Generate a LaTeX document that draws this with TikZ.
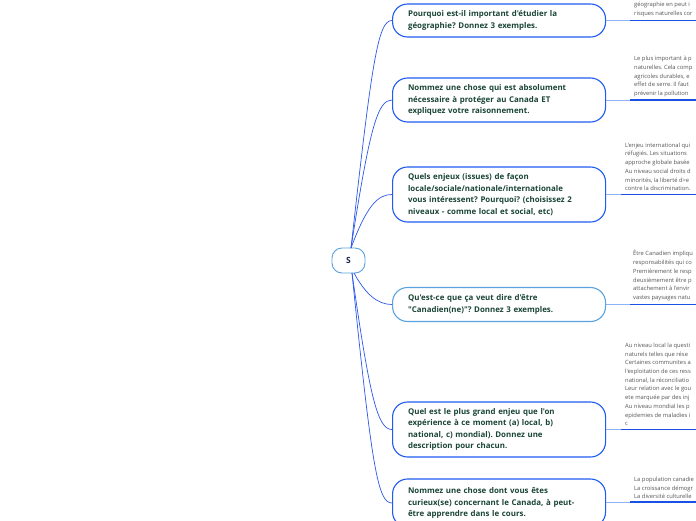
\documentclass[tikz,border=0pt]{standalone}
\usepackage{fontspec}
\setmainfont{Open Sans}[Ligatures=TeXOff]
\frenchspacing
\definecolor{nodeblue}{HTML}{1F5BF2}
\definecolor{lightblue}{HTML}{5AA2E0}
\definecolor{thinblue}{HTML}{8DB3F5}
\definecolor{ulblue}{HTML}{1A50E6}
\definecolor{curveblue}{HTML}{2B57EA}
\definecolor{qtext}{HTML}{1A4535}
\definecolor{stext}{HTML}{1B2A4A}
\definecolor{notetext}{HTML}{555555}
\tikzset{
  question/.style={draw=nodeblue, line width=1.1pt, fill=white, rounded corners=15pt,
    minimum width=211pt, text width=182pt, inner xsep=15.5pt, align=left, anchor=west,
    text=qtext, font=\fontsize{7.9}{11.5}\selectfont\bfseries},
  central/.style={draw=lightblue, line width=0.9pt, fill=white, rounded corners=10pt,
    minimum width=33pt, minimum height=25pt, text=stext, font=\fontsize{8.5}{10}\selectfont\bfseries},
  note/.style={anchor=south west, align=left, inner sep=0pt, text=notetext,
    font=\fontsize{5.8}{8.7}\selectfont},
  branch/.style={draw=curveblue, line width=0.7pt},
  thin/.style={draw=thinblue, line width=0.8pt},
  uline/.style={draw=ulblue, line width=1.8pt}
}
\begin{document}
\begin{tikzpicture}[x=1pt,y=-1pt]
\useasboundingbox (0,0) rectangle (696,520);
\clip (0,0) rectangle (696,520);
\fill[white] (0,0) rectangle (696,520);

% central node
\node[central] (S) at (348.5,260.5) {S};

% question nodes
\node[question, minimum height=33pt] (n1) at (392,20.5) {Pourquoi est-il important d'étudier la\\ géographie? Donnez 3 exemples.};
\node[question, minimum height=44pt] (n2) at (392,100) {Nommez une chose qui est absolument\\ nécessaire à protéger au Canada ET\\ expliquez votre raisonnement.};
\node[question, minimum height=55pt] (n3) at (392,194.5) {Quels enjeux (issues) de façon\\ locale/sociale/nationale/internationale\\ vous intéressent? Pourquoi? (choisissez 2\\ niveaux - comme local et social, etc)};
\node[question, draw=lightblue, minimum height=34pt] (n4) at (392,304.5) {Qu'est-ce que ça veut dire d'être\\ "Canadien(ne)"? Donnez 3 exemples.};
\node[question, minimum height=55pt] (n5) at (392,429.5) {Quel est le plus grand enjeu que l'on\\ expérience à ce moment (a) local, b)\\ national, c) mondial). Donnez une\\ description pour chacun.};
\node[question, minimum height=48pt] (n6) at (392,503) {Nommez une chose dont vous êtes\\ curieux(se) concernant le Canada, à peut-\\ être apprendre dans le cours.};

% branches from the centre
\coordinate (su) at (351,248);
\coordinate (sd) at (352,273);
\draw[branch] (su) .. controls (372,60) and (378,20.5) .. (n1.west);
\draw[branch] (su) .. controls (370,125) and (378,100) .. (n2.west);
\draw[branch] (su) .. controls (367,205) and (378,194.5) .. (n3.west);
\draw[branch] (354,273) .. controls (366,295) and (378,304.5) .. (n4.west);
\draw[branch] (sd) .. controls (370,400) and (378,429.5) .. (n5.west);
\draw[branch] (sd) .. controls (372,470) and (378,503) .. (n6.west);

% underline coordinates
\coordinate (u1) at (630,20.5);  \coordinate (e1) at (700,20.5);
\coordinate (u2) at (630,100);   \coordinate (e2) at (700,100);
\coordinate (u3) at (621,194.5); \coordinate (e3) at (700,194.5);
\coordinate (u4) at (630,304.5); \coordinate (e4) at (700,304.5);
\coordinate (u5) at (621,429.5); \coordinate (e5) at (700,429.5);
\coordinate (u6) at (630,502);   \coordinate (e6) at (700,502);

\foreach \i in {1,...,6} {
  \draw[thin] (n\i.east |- u\i) -- (u\i);
  \draw[uline] (u\i) -- (e\i);
}

% notes
\node[note] (t1) at (634,17) {géographie en peut i\\ risques naturelles cor};
\node[note] (t2) at (634,97) {Le plus important à p\\ naturelles. Cela comp\\ agricoles durables, e\\ effet de serre. Il faut \\ prévenir la pollution};
\node[note] (t3) at (625,191) {L'enjeu international qui\\ réfugiés. Les situations\\ approche globale basée\\ Au niveau social droits d\\ minorités, la liberté d>e\\ contre la discrimination.};
\node[note] (t4) at (633,301) {Être Canadien impliqu\\ responsabilités qui co\\ Premièrement le resp\\ deuxièmement être p\\ attachement à l'envir\\ vastes paysages natu};
\node[note] (t5) at (625,426) {Au niveau local la questi\\ naturels telles que rése\\ Certaines communites a\\ l'exploitation de ces ress\\ national, la réconciliatio\\ Leur relation avec le gou\\ ete marquée par des inj\\ Au niveau mondial les p\\ epidemies de maladies i\\ c};
\node[note] (t6) at (634,499) {La population canadie\\ La croissance démogr\\ La diversité culturelle};
\end{tikzpicture}
\end{document}
